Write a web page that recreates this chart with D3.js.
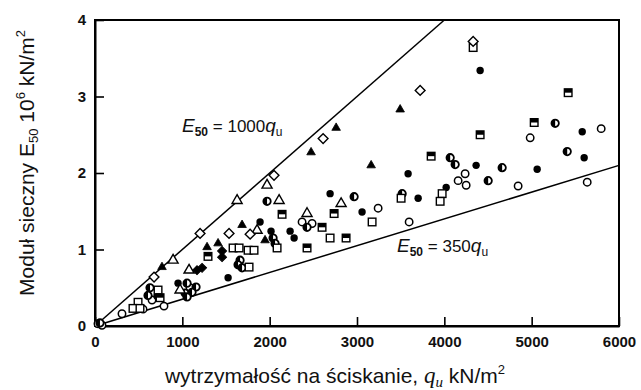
<!DOCTYPE html>
<html><head><meta charset="utf-8">
<script src="https://cdn.jsdelivr.net/npm/d3@7"></script>
<style>
html,body{margin:0;padding:0;background:#fff;}
svg{display:block;font-family:"Liberation Sans",Arial,sans-serif;}
</style></head>
<body>
<svg id="c" width="641" height="390"></svg>
<script>
// ---- data (qu in kN/m², E50 in 10^6 kN/m²) ----
const xTicks = [0,1000,2000,3000,4000,5000,6000];
const yTicks = [0,1,2,3,4];
const diamondOpen = [[4330,3.72],[3723,3.08],[2612,2.45],[2050,1.97],[1535,1.21],[1203,1.21],[1776,1.20],[676,0.64]];
const triangleFilled = [[3494,2.83],[2761,2.59],[2474,2.27],[3162,2.10],[1684,1.32],[1947,1.12],[1283,1.03],[1409,1.08],[767,0.77]];
const triangleOpen = [[1970,1.84],[1627,1.64],[2108,1.64],[2818,1.60],[2428,1.47],[1856,1.25],[894,0.86],[1077,0.73],[974,0.47]];
const circleFilled = [[4410,3.34],[5579,2.54],[5601,2.20],[5063,2.05],[4364,2.10],[4021,1.81],[3585,1.99],[3700,1.67],[2692,1.73],[3058,1.49],[1890,1.36],[2016,1.24],[2234,1.24],[2280,1.15],[1524,0.63],[951,0.56],[710,0.39]];
const circleOpen = [[4983,2.46],[5796,2.58],[4845,1.83],[5636,1.88],[3242,1.54],[3597,1.36],[4238,1.99],[4158,1.90],[4250,1.84],[2371,1.36],[2486,1.34],[790,0.26],[550,0.22],[309,0.16],[1088,0.50],[653,0.34],[80,0.01],[34,0.03]];
const circleHalf = [[5269,2.65],[5407,2.28],[4662,2.07],[4502,1.90],[4067,2.20],[4124,2.11],[3517,1.73],[2967,1.69],[1970,1.63],[2039,1.15],[2062,1.08],[1661,0.86],[1638,0.80],[1684,0.76],[2428,1.29],[630,0.50],[607,0.40],[1054,0.56],[1157,0.51],[1031,0.43],[1111,0.44],[1054,0.38],[57,0.04]];
const squareOpen = [[4330,3.64],[3975,1.73],[3952,1.63],[3505,1.67],[3173,1.36],[2692,1.15],[2085,1.02],[1581,1.02],[1650,1.02],[1753,0.99],[1821,0.99],[1764,0.77],[722,0.47],[493,0.31],[435,0.23],[515,0.23]];
const squareHalf = [[5418,3.05],[5029,2.66],[4410,2.50],[3849,2.22],[2142,1.46],[2738,1.47],[2600,1.29],[2875,1.15],[2428,1.02],[1294,0.91],[745,0.37]];
const diamondFilled = [[1455,0.98],[1455,0.90],[1226,0.76],[1168,0.73]];
const lineRatios = [1000, 350];

// ---- layout ----
const svg = d3.select("#c");
const X0 = 95, X1 = 619, Y0 = 326, Y1 = 20;
const x = d3.scaleLinear().domain([0,6000]).range([X0,X1]);
const y = d3.scaleLinear().domain([0,4]).range([Y0,Y1]);

// frame
svg.append("rect").attr("x",X0).attr("y",Y1).attr("width",X1-X0).attr("height",Y0-Y1)
  .attr("fill","none").attr("stroke","#000").attr("stroke-width",2);

const gx = svg.append("g").attr("transform",`translate(0,${Y0})`)
  .call(d3.axisBottom(x).tickValues(xTicks).tickFormat(d3.format("d")).tickSizeInner(-9).tickSizeOuter(0).tickPadding(10));
const gy = svg.append("g").attr("transform",`translate(${X0},0)`)
  .call(d3.axisLeft(y).tickValues(yTicks).tickFormat(d3.format("d")).tickSizeInner(-9).tickSizeOuter(0).tickPadding(9));
[gx,gy].forEach(g=>{
  g.select(".domain").attr("stroke","#000").attr("stroke-width",2);
  g.selectAll(".tick line").attr("stroke","#000").attr("stroke-width",1.6);
  g.selectAll(".tick text").attr("fill","#111").attr("font-size",15).attr("font-weight","bold")
    .attr("font-family","'Liberation Sans',Arial,sans-serif");
});

// reference lines
lineRatios.forEach(r=>{
  const qEnd = Math.min(6000, 4e6/r);
  svg.append("line").attr("x1",x(0)).attr("y1",y(0)).attr("x2",x(qEnd)).attr("y2",y(r*qEnd/1e6))
    .attr("stroke","#000").attr("stroke-width",1.5);
});

// markers
const sym = (type,size)=>d3.symbol().type(type).size(size)();
function draw(data, kind){
  const g = svg.append("g");
  data.forEach(([q,e])=>{
    const t = g.append("g").attr("transform",`translate(${x(q)},${y(e)})`);
    switch(kind){
      case "diamondOpen":
        t.append("path").attr("d",sym(d3.symbolSquare,48)).attr("transform","rotate(45)")
          .attr("fill","#fff").attr("stroke","#000").attr("stroke-width",1.4); break;
      case "diamondFilled":
        t.append("path").attr("d",sym(d3.symbolSquare,40)).attr("transform","rotate(45)")
          .attr("fill","#000").attr("stroke","#000").attr("stroke-width",1); break;
      case "triangleFilled":
        t.append("path").attr("d",sym(d3.symbolTriangle,32)).attr("fill","#000").attr("stroke","#000").attr("stroke-width",0.8); break;
      case "triangleOpen":
        t.append("path").attr("d",sym(d3.symbolTriangle,44)).attr("fill","#fff").attr("stroke","#000").attr("stroke-width",1.4); break;
      case "circleFilled":
        t.append("circle").attr("r",3.7).attr("fill","#000"); break;
      case "circleOpen":
        t.append("circle").attr("r",3.7).attr("fill","#fff").attr("stroke","#000").attr("stroke-width",1.5); break;
      case "circleHalf":
        t.append("circle").attr("r",3.7).attr("fill","#fff").attr("stroke","#000").attr("stroke-width",1.8);
        t.append("path").attr("d","M0,-3.7A3.7,3.7 0 0 0 0,3.7Z").attr("fill","#000"); break;
      case "squareOpen":
        t.append("rect").attr("x",-3.8).attr("y",-3.8).attr("width",7.6).attr("height",7.6)
          .attr("fill","#fff").attr("stroke","#000").attr("stroke-width",1.4); break;
      case "squareHalf":
        t.append("rect").attr("x",-3.8).attr("y",-3.8).attr("width",7.6).attr("height",7.6)
          .attr("fill","#fff").attr("stroke","#000").attr("stroke-width",1.4);
        t.append("rect").attr("x",-3.8).attr("y",-3.8).attr("width",7.6).attr("height",3.8).attr("fill","#000"); break;
    }
  });
}
draw(circleOpen,"circleOpen");
draw(circleHalf,"circleHalf");
draw(circleFilled,"circleFilled");
draw(squareOpen,"squareOpen");
draw(squareHalf,"squareHalf");
draw(triangleOpen,"triangleOpen");
draw(triangleFilled,"triangleFilled");
draw(diamondOpen,"diamondOpen");
draw(diamondFilled,"diamondFilled");

// line labels
function eqLabel(xp, yp, num){
  const t = svg.append("text").attr("x",xp).attr("y",yp).attr("font-size",17).attr("fill","#111")
    .attr("font-family","'Liberation Sans',Arial,sans-serif");
  t.append("tspan").attr("font-style","italic").attr("font-size",19).text("E");
  t.append("tspan").attr("font-size",12).attr("font-weight","bold").attr("dy",4).text("50");
  t.append("tspan").attr("dy",-4).text(" = " + num);
  t.append("tspan").attr("font-style","italic").attr("font-size",19).text("q");
  t.append("tspan").attr("font-size",12).attr("dy",4).text("u");
}
eqLabel(182, 132, "1000");
eqLabel(397, 252, "350");

// axis titles
const yt = svg.append("text").attr("transform","translate(34,163) rotate(-90)").attr("text-anchor","middle")
  .attr("font-size",21).attr("fill","#111");
yt.append("tspan").text("Moduł sieczny E");
yt.append("tspan").attr("font-size",13).attr("dy",4).text("50");
yt.append("tspan").attr("dy",-4).text(" 10");
yt.append("tspan").attr("font-size",13).attr("dy",-9).text("6");
yt.append("tspan").attr("dy",9).text(" kN/m");
yt.append("tspan").attr("font-size",13).attr("dy",-9).text("2");

const xt = svg.append("text").attr("x",335).attr("y",383).attr("text-anchor","middle")
  .attr("font-size",21).attr("fill","#111");
xt.append("tspan").text("wytrzymałość na ściskanie, ");
xt.append("tspan").attr("font-family","'Liberation Serif','DejaVu Serif',serif").attr("font-style","italic").attr("font-size",23).text("q");
xt.append("tspan").attr("font-family","'Liberation Serif','DejaVu Serif',serif").attr("font-style","italic").attr("font-size",15).attr("dy",4).text("u");
xt.append("tspan").attr("dy",-4).text(" kN/m");
xt.append("tspan").attr("font-size",13).attr("dy",-9).text("2");
</script>
</body></html>
